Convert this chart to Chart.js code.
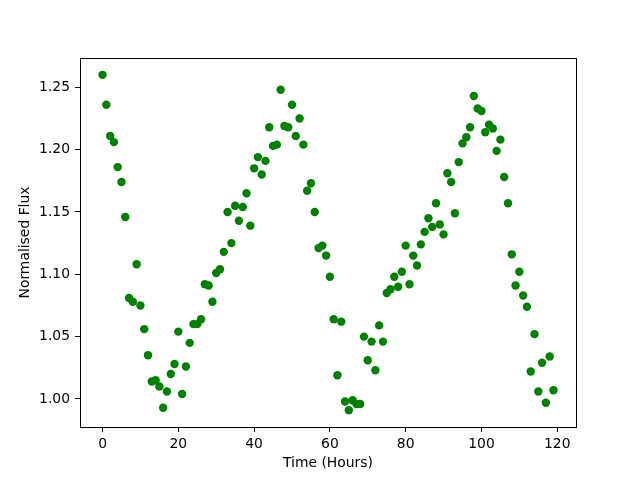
<!DOCTYPE html>
<html>
<head>
<meta charset="utf-8">
<script src="https://cdn.jsdelivr.net/npm/chart.js@4/dist/chart.umd.min.js"></script>
<style>
  html, body { margin: 0; padding: 0; background: #fff; }
  canvas { display: block; }
</style>
</head>
<body>
<canvas id="fluxChart" width="640" height="480"></canvas>
<script>
// Observation times (hours)
const hours = [
  0, 1, 2, 3, 4, 5, 6, 7, 8, 9,
  10, 11, 12, 13, 14, 15, 16, 17, 18, 19,
  20, 21, 22, 23, 24, 25, 26, 27, 28, 29,
  30, 31, 32, 33, 34, 35, 36, 37, 38, 39,
  40, 41, 42, 43, 44, 45, 46, 47, 48, 49,
  50, 51, 52, 53, 54, 55, 56, 57, 58, 59,
  60, 61, 62, 63, 64, 65, 66, 67, 68, 69,
  70, 71, 72, 73, 74, 75, 76, 77, 78, 79,
  80, 81, 82, 83, 84, 85, 86, 87, 88, 89,
  90, 91, 92, 93, 94, 95, 96, 97, 98, 99,
  100, 101, 102, 103, 104, 105, 106, 107, 108, 109,
  110, 111, 112, 113, 114, 115, 116, 117, 118, 119
];

// Normalised flux
const flux = [
  1.260, 1.236, 1.211, 1.206, 1.186, 1.174, 1.146, 1.081, 1.078, 1.108,
  1.075, 1.056, 1.035, 1.014, 1.015, 1.010, 0.993, 1.006, 1.020, 1.028,
  1.054, 1.004, 1.026, 1.045, 1.060, 1.060, 1.064, 1.092, 1.091, 1.078,
  1.101, 1.104, 1.118, 1.150, 1.125, 1.155, 1.143, 1.154, 1.165, 1.139,
  1.185, 1.194, 1.180, 1.191, 1.218, 1.203, 1.204, 1.248, 1.219, 1.218,
  1.236, 1.211, 1.225, 1.204, 1.167, 1.173, 1.150, 1.121, 1.123, 1.115,
  1.098, 1.064, 1.019, 1.062, 0.998, 0.991, 0.999, 0.996, 0.996, 1.050,
  1.031, 1.046, 1.023, 1.059, 1.046, 1.085, 1.088, 1.098, 1.090, 1.102,
  1.123, 1.092, 1.115, 1.107, 1.124, 1.134, 1.145, 1.138, 1.157, 1.140,
  1.132, 1.181, 1.174, 1.149, 1.190, 1.205, 1.210, 1.218, 1.243, 1.233,
  1.231, 1.214, 1.220, 1.217, 1.199, 1.208, 1.178, 1.157, 1.116, 1.091,
  1.102, 1.083, 1.074, 1.022, 1.052, 1.006, 1.029, 0.997, 1.034, 1.007
];

const xTicks = [0, 20, 40, 60, 80, 100, 120];
const yTicks = [1.00, 1.05, 1.10, 1.15, 1.20, 1.25];

const points = hours.map((h, i) => ({ x: h, y: flux[i] }));

Chart.defaults.font.family = '"DejaVu Sans", sans-serif';
Chart.defaults.font.size = 13.9;
Chart.defaults.color = '#000';

// draws the full box around the plot area like matplotlib spines
const frame = {
  id: 'frame',
  afterDraw(chart) {
    const { ctx, chartArea: a } = chart;
    ctx.save();
    ctx.strokeStyle = '#000';
    ctx.lineWidth = 1;
    ctx.strokeRect(Math.round(a.left) + 0.5, Math.round(a.top) + 0.5,
      Math.round(a.right - a.left), Math.round(a.bottom - a.top));
    ctx.restore();
  }
};

const ctx = document.getElementById('fluxChart').getContext('2d');
new Chart(ctx, {
  type: 'scatter',
  data: {
    datasets: [{
      data: points,
      backgroundColor: '#008000',
      borderColor: '#008000',
      borderWidth: 0,
      pointRadius: 4.2,
      pointHoverRadius: 4.2
    }]
  },
  options: {
    responsive: false,
    animation: false,
    layout: { padding: { top: 58, right: 64, left: 0, bottom: 0 } },
    plugins: {
      legend: { display: false },
      tooltip: { enabled: false }
    },
    scales: {
      x: {
        type: 'linear',
        min: -5.95,
        max: 124.95,
        afterFit: s => { s.height = 53; },
        afterBuildTicks: s => { s.ticks = xTicks.map(v => ({ value: v })); },
        border: { display: false },
        grid: { drawOnChartArea: false, tickLength: 5, tickColor: '#000', tickWidth: 1 },
        ticks: { padding: 4, maxRotation: 0, callback: v => String(v) },
        title: { display: true, text: 'Time (Hours)', padding: { top: 0, bottom: 8.4 } }
      },
      y: {
        type: 'linear',
        min: 0.9775,
        max: 1.2735,
        afterFit: s => { s.width = 80; },
        afterBuildTicks: s => { s.ticks = yTicks.map(v => ({ value: v })); },
        border: { display: false },
        grid: { drawOnChartArea: false, tickLength: 5, tickColor: '#000', tickWidth: 1 },
        ticks: { padding: 5, callback: v => v.toFixed(2) },
        title: { display: true, text: 'Normalised Flux', padding: { top: 17.5, bottom: 0 } }
      }
    }
  },
  plugins: [frame]
});
</script>
</body>
</html>
